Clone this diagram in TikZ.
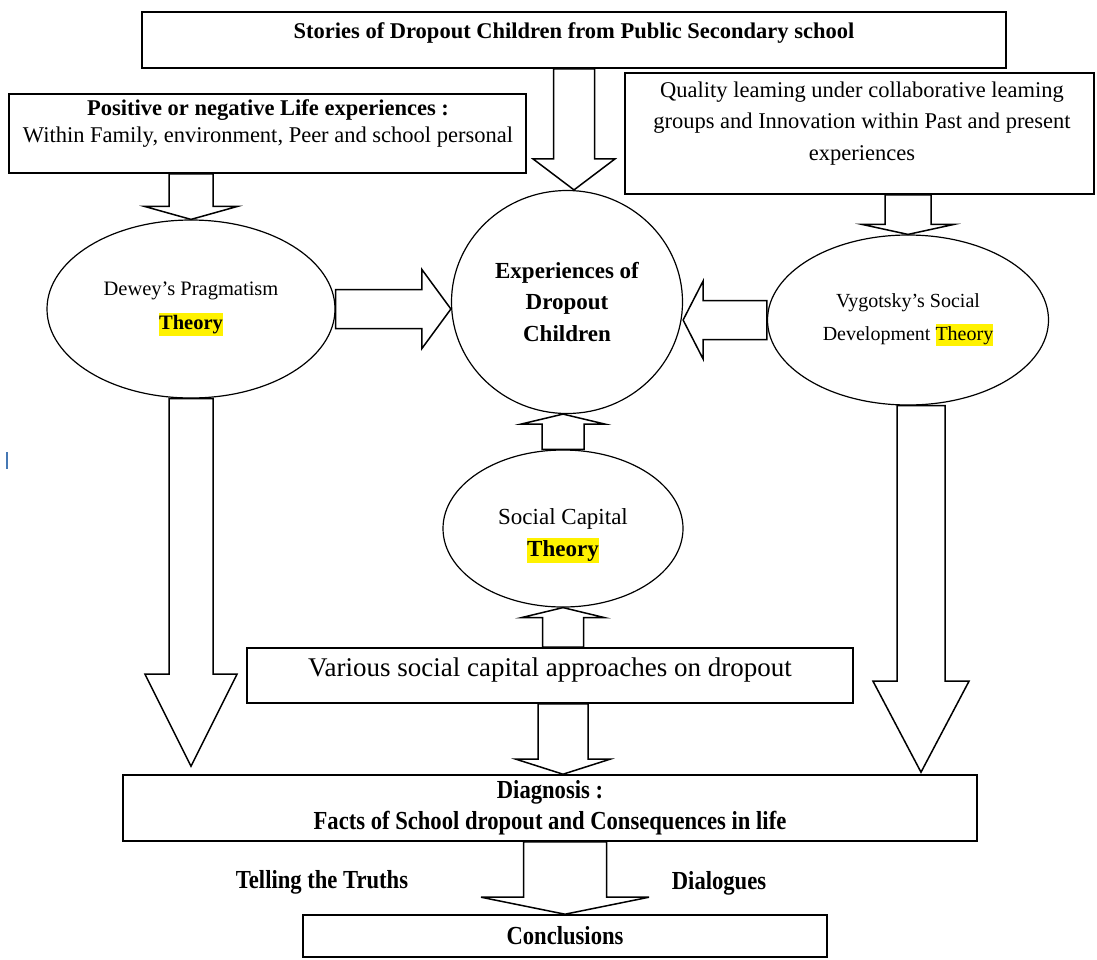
\documentclass[tikz,border=0pt]{standalone}
\usepackage{fontspec}
\setmainfont{Liberation Serif}
\usepackage{graphicx}
\usetikzlibrary{calc,shapes.geometric}
\definecolor{cursorblue}{RGB}{70,120,180}

\newcommand{\fs}[2]{\fontsize{#1}{#2}\selectfont}
\newcommand{\hilite}[1]{{\setlength{\fboxsep}{0pt}\colorbox{yellow}{\rule[-0.3em]{0pt}{1.1em}#1}}}
\newcommand{\cond}[1]{\scalebox{0.87}[1]{#1}}
% block arrow: start, tip, half shaft, half head, head length
\newcommand{\fatarrow}[5]{%
  \coordinate (fa-b) at ($(#2)!#5!(#1)$);
  \draw[fat] ($(#1)!#3!90:(#2)$) -- ($(fa-b)!#3!90:(#2)$) -- ($(fa-b)!#4!90:(#2)$) -- (#2)
    -- ($(fa-b)!#4!-90:(#2)$) -- ($(fa-b)!#3!-90:(#2)$) -- ($(#1)!#3!-90:(#2)$) -- cycle;}

\begin{document}
\begin{tikzpicture}[x=1pt,y=-1pt,
  box/.style={draw,line width=1.6pt,fill=white,inner sep=0pt},
  oval/.style={draw,ellipse,line width=1.2pt,fill=white,inner sep=0pt,align=center},
  fat/.style={draw,line width=1.5pt,fill=white,line join=miter},
  txt/.style={inner sep=0pt,align=center}]
\useasboundingbox (0,0) rectangle (1097,959);

% boxes and ovals
\node[box,minimum width=864pt,minimum height=56pt] (stories) at (574,40) {};
\node[txt,font=\fs{22.5}{27}\bfseries] (storiestxt) at (574,33) {Stories of Dropout Children from Public Secondary school};
\node[box,minimum width=517pt,minimum height=79pt] (life) at (267.5,133.5) {};
\node[txt,font=\fs{22.5}{27}] (lifetxt) at (268,123.5) {{\bfseries Positive or negative Life experiences :}\\Within Family, environment, Peer and school personal};
\node[box,minimum width=469pt,minimum height=121pt] (quality) at (859.5,133.5) {};
\node[txt,font=\fs{22.5}{31.5}] (qualitytxt) at (862,123.5) {Quality leaming under collaborative leaming\\groups and Innovation within Past and present\\experiences};

\node[oval,minimum width=288pt,minimum height=178pt,font=\fs{20.5}{34}] (dewey) at (191,309) {Dewey's Pragmatism\\\hilite{\bfseries Theory}};
\node[oval,minimum width=231pt,minimum height=223pt,font=\fs{23}{31.5}\bfseries] (exp) at (567,302) {Experiences of\\Dropout\\Children};
\node[oval,minimum width=281pt,minimum height=170pt,font=\fs{20}{33}] (vyg) at (908,320) {Vygotsky's Social\\Development \hilite{Theory}};
\node[oval,minimum width=240pt,minimum height=157pt] (social) at (563,528.5) {};
\node[txt,font=\fs{23}{32}] (socialtxt) at (563,536) {Social Capital\\\hilite{\bfseries Theory}};

\node[box,minimum width=606pt,minimum height=55pt] (various) at (550,675.5) {};
\node[txt,font=\fs{27}{32}] (varioustxt) at (550,670) {Various social capital approaches on dropout};
\node[box,minimum width=854pt,minimum height=66pt,align=center,font=\fs{26}{31}\bfseries] (diag) at (550,808) {\cond{Diagnosis :}\\\cond{Facts of School dropout and Consequences in life}};
\node[box,minimum width=524pt,minimum height=42pt,font=\fs{26}{31}\bfseries] (concl) at (565,936) {\cond{Conclusions}};

\node[txt,font=\fs{26}{31}\bfseries] (truths) at (322,882) {\cond{Telling the Truths}};
\node[txt,font=\fs{26}{31}\bfseries] (dialogues) at (719,883) {\cond{Dialogues}};

% block arrows
\coordinate (p1) at (stories.south |- exp.north);
\fatarrow{stories.south}{p1}{20.5pt}{41pt}{31pt}
\coordinate (p2) at (dewey.north |- life.south);
\fatarrow{p2}{dewey.north}{22pt}{46.5pt}{13pt}
\coordinate (p3) at (vyg.north |- quality.south);
\fatarrow{p3}{vyg.north}{23pt}{46pt}{10pt}
\coordinate (p4) at (exp.west |- dewey.east);
\fatarrow{dewey.east}{p4}{19.5pt}{39.5pt}{29pt}
\coordinate (p5) at (exp.east |- vyg.west);
\fatarrow{vyg.west}{p5}{19.5pt}{39pt}{20pt}
\coordinate (p6) at (social.north |- exp.south);
\fatarrow{social.north}{p6}{21pt}{42pt}{10pt}
\coordinate (p7) at (social.south |- various.north);
\fatarrow{p7}{social.south}{20.5pt}{41.5pt}{10pt}
\coordinate (p8) at (social.south |- various.south);
\coordinate (p8e) at (social.south |- diag.north);
\fatarrow{p8}{p8e}{25pt}{47pt}{15pt}
\coordinate (p9) at ($(dewey.south |- diag.north)+(0,-8)$);
\fatarrow{dewey.south}{p9}{22pt}{46pt}{92pt}
\coordinate (p10) at ($(vyg.south)+(13,0)$);
\coordinate (p10e) at ($(p10 |- diag.north)+(0,-2)$);
\fatarrow{p10}{p10e}{24pt}{48pt}{91pt}
\coordinate (p11) at (concl.north |- diag.south);
\fatarrow{p11}{concl.north}{41.5pt}{84pt}{17pt}

\draw[cursorblue,line width=2pt] (6.5,452) -- (6.5,469);
\end{tikzpicture}
\end{document}
